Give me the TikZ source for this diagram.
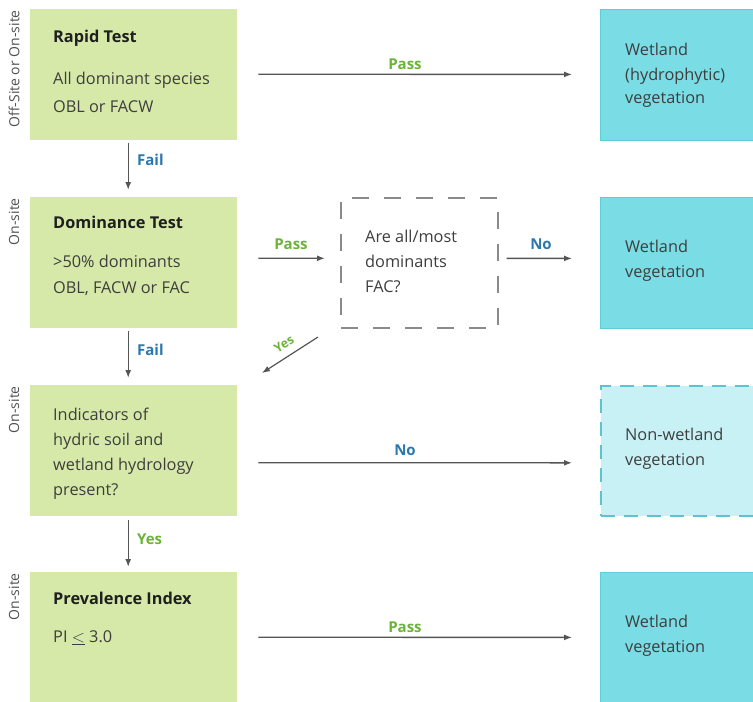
\documentclass[tikz,border=0pt]{standalone}
\usepackage{fontspec}
\setmainfont{Open Sans}
\usetikzlibrary{arrows.meta}
\definecolor{boxgreen}{HTML}{D6E9A8}
\definecolor{boxcyan}{HTML}{7ADCE4}
\definecolor{cyanedge}{HTML}{5FCDD8}
\definecolor{lightcyan}{HTML}{C8F1F6}
\definecolor{dashcyan}{HTML}{5CC4CE}
\definecolor{txtgrey}{HTML}{3E3E3E}
\definecolor{passgreen}{HTML}{6CB33A}
\definecolor{failblue}{HTML}{2C78AE}
\definecolor{linegrey}{HTML}{555555}
\definecolor{dashgrey}{HTML}{8A8A8A}
\begin{document}
\begin{tikzpicture}[x=1pt,y=-1pt,
  gbox/.style={fill=boxgreen,draw=none,minimum width=207pt,minimum height=131pt,anchor=north west,inner sep=0pt},
  cbox/.style={fill=boxcyan,draw=cyanedge,line width=0.8pt,minimum width=170pt,minimum height=131pt,anchor=north west,inner sep=0pt},
  ncbox/.style={fill=lightcyan,draw=dashcyan,line width=1.6pt,dash pattern=on 14pt off 9pt,minimum width=170pt,minimum height=130pt,anchor=north west,inner sep=0pt},
  qbox/.style={draw=dashgrey,line width=1.6pt,dash pattern=on 17pt off 15pt,minimum width=157pt,minimum height=130pt,anchor=north west,inner sep=0pt},
  txt/.style={anchor=west,inner sep=0pt,text=txtgrey,font=\fontsize{16.3}{19}\selectfont,text height=0.75em,text depth=0.25em},
  ttl/.style={txt,text=black!88,font=\fontsize{16.3}{19}\selectfont\bfseries},
  side/.style={anchor=east,rotate=90,inner sep=0pt,text=txtgrey!90,font=\fontsize{14}{16}\selectfont},
  arr/.style={draw=linegrey,line width=1.4pt,-{Latex[length=8pt,width=6pt]}},
  passlbl/.style={inner sep=0pt,text=passgreen,font=\fontsize{15}{17}\selectfont\bfseries},
  faillbl/.style={inner sep=0pt,text=failblue,font=\fontsize{15}{17}\selectfont\bfseries}
]
\clip (0,0) rectangle (753,702);
\fill[white] (0,0) rectangle (753,702);

% left column boxes
\node[gbox] (b1) at (30,9) {};
\node[gbox] (b2) at (30,197) {};
\node[gbox] (b3) at (30,385) {};
\node[gbox,minimum height=140pt] (b4) at (30,572) {};

% right column boxes
\node[cbox] (r1) at (600,9) {};
\node[cbox] (r2) at (600,197) {};
\node[ncbox] (r3) at (600,385) {};
\node[cbox,minimum height=140pt] (r4) at (600,572) {};

% question box
\node[qbox] (q) at (340,197) {};

% side labels
\node[side] (s1) at (14,10) {Off-Site or On-site};
\node[side] (s2) at (14,198) {On-site};
\node[side] (s3) at (14,386) {On-site};
\node[side] (s4) at (14,573) {On-site};

% texts in left boxes
\node[ttl] (t1a) at (53,40) {Rapid Test};
\node[txt] (t1b) at (53,82) {All dominant species};
\node[txt] (t1c) at (53,110) {OBL or FACW};
\node[ttl] (t2a) at (53,226) {Dominance Test};
\node[txt] (t2b) at (53,265) {>50\% dominants};
\node[txt] (t2c) at (53,291) {OBL, FACW or FAC};
\node[txt] (t3a) at (53,418) {Indicators of};
\node[txt] (t3b) at (53,443) {hydric soil and};
\node[txt] (t3c) at (53,468) {wetland hydrology};
\node[txt] (t3d) at (53,493) {present?};
\node[ttl] (t4a) at (53,602) {Prevalence Index};
\node[txt] (t4b) at (53,640) {PI $\underline{<}$ 3.0};

% texts in question box
\node[txt] (qa) at (365,240) {Are all/most};
\node[txt] (qb) at (365,265) {dominants};
\node[txt] (qc) at (365,290) {FAC?};

% texts in right boxes
\node[txt] (r1a) at (625,53) {Wetland};
\node[txt] (r1b) at (625,78) {(hydrophytic)};
\node[txt] (r1c) at (625,101) {vegetation};
\node[txt] (r2a) at (625,250) {Wetland};
\node[txt] (r2b) at (625,275) {vegetation};
\node[txt] (r3a) at (625,438) {Non-wetland};
\node[txt] (r3b) at (625,463) {vegetation};
\node[txt] (r4a) at (625,625) {Wetland};
\node[txt] (r4b) at (625,650) {vegetation};

% horizontal connectors
\draw[arr] ([xshift=21pt,yshift=0.5pt]b1.east) -- ([xshift=-28pt,yshift=0.5pt]r1.west);
\node[passlbl] (l1) at (405,64) {Pass};
\draw[arr] ([xshift=21pt,yshift=4.5pt]b2.east) -- ([xshift=-15pt,yshift=4.5pt]q.west);
\node[passlbl] (l2) at (291,244) {Pass};
\draw[arr] ([xshift=8pt,yshift=4.5pt]q.east) -- ([xshift=-28pt,yshift=4.5pt]r2.west);
\node[faillbl] (l3) at (541,244) {No};
\draw[arr] ([xshift=21pt,yshift=-12pt]b3.east) -- ([xshift=-28pt,yshift=-12pt]r3.west);
\node[faillbl] (l4) at (405,450) {No};
\draw[arr] ([xshift=21pt,yshift=5pt]b4.east) -- ([xshift=-28pt,yshift=5pt]r4.west);
\node[passlbl] (l5) at (405,627) {Pass};

% diagonal Yes
\coordinate (yd1) at (318,337);
\coordinate (yd2) at (262,373);
\draw[arr,line width=1.2pt] (yd1) -- (yd2);
\node[passlbl,rotate=33,font=\fontsize{12.5}{14}\selectfont\bfseries] (l6) at (284,344) {Yes};

% vertical connectors
\draw[arr] ([xshift=-5.5pt,yshift=-3pt]b1.south) -- ([xshift=-5.5pt,yshift=7pt]b2.north);
\node[faillbl,anchor=west] (l7) at (137,160) {Fail};
\draw[arr] ([xshift=-5.5pt,yshift=-3pt]b2.south) -- ([xshift=-5.5pt,yshift=7pt]b3.north);
\node[faillbl,anchor=west] (l8) at (137,350) {Fail};
\draw[arr] ([xshift=-5.5pt,yshift=-4pt]b3.south) -- ([xshift=-5.5pt,yshift=5pt]b4.north);
\node[passlbl,anchor=west] (l9) at (137,539) {Yes};
\end{tikzpicture}
\end{document}
